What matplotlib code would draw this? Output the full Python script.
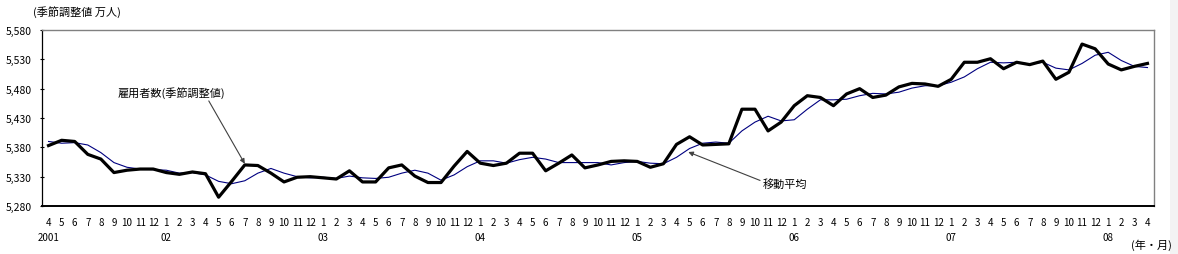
import matplotlib
matplotlib.use('Agg')
import matplotlib.pyplot as plt
from matplotlib.patches import Rectangle

plt.rcParams['font.family'] = ['Noto Sans CJK JP', 'DejaVu Sans']

# monthly data, 2001/4 .. 2008/4 (万人, seasonally adjusted)
months = [4, 5, 6, 7, 8, 9, 10, 11, 12] + list(range(1, 13)) * 6 + [1, 2, 3, 4]
year_labels = ["2001", "02", "03", "04", "05", "06", "07", "08"]

employees = [
    5383, 5392, 5390, 5368, 5360, 5337, 5341, 5343, 5343,
    5337, 5334, 5338, 5335, 5295, 5322, 5350, 5349, 5336, 5321, 5329, 5330,
    5328, 5326, 5340, 5321, 5321, 5345, 5350, 5331, 5320, 5320, 5348, 5373,
    5353, 5349, 5353, 5370, 5370, 5340, 5353, 5367, 5345, 5350, 5356, 5357,
    5356, 5346, 5352, 5385, 5398, 5384, 5385, 5386, 5445, 5445, 5408, 5423,
    5451, 5468, 5465, 5451, 5471, 5480, 5465, 5469, 5483, 5489, 5488, 5484,
    5496, 5525, 5525, 5531, 5514, 5525, 5521, 5527, 5496, 5508, 5556, 5548,
    5522, 5512, 5518, 5523,
]

moving_avg = [
    5390, 5387, 5388, 5384, 5371, 5354, 5346, 5343, 5342,
    5341, 5336, 5337, 5333, 5322, 5318, 5323, 5336, 5344, 5336, 5330, 5328,
    5329, 5327, 5331, 5328, 5327, 5329, 5336, 5341, 5336, 5324, 5333, 5347,
    5357, 5357, 5353, 5359, 5363, 5360, 5354, 5354, 5354, 5354, 5350, 5354,
    5356, 5353, 5352, 5363, 5378, 5387, 5389, 5387, 5408, 5423, 5433, 5425,
    5427, 5445, 5461, 5461, 5462, 5468, 5472, 5471, 5474, 5481, 5485, 5485,
    5491, 5500, 5514, 5525, 5524, 5525, 5522, 5525, 5515, 5512, 5523, 5537,
    5542, 5528, 5518, 5516,
]

x = list(range(len(employees)))

fig = plt.figure(figsize=(11.78, 2.55), dpi=100)
ax = fig.add_axes([42 / 1178, 1 - 207 / 255, 1112 / 1178, 176 / 255])

# faint strip at the right border of the picture
fig.patches.append(Rectangle((1170 / 1178, 0), 8 / 1178, 1, transform=fig.transFigure,
                             facecolor='#f3f3f3', edgecolor='none'))

ax.plot(x, moving_avg, color='#000080', lw=0.8, zorder=2)
ax.plot(x, employees, color='black', lw=2.3, zorder=3)

ax.set_xlim(-0.5, len(x) - 0.5)
ax.set_ylim(5280, 5580)
yt = list(range(5280, 5581, 50))
ax.set_yticks(yt)
ax.set_yticklabels(["{:,}".format(v) for v in yt], fontsize=7.5)
ax.set_xticks(x)
ax.set_xticklabels([str(m) for m in months], fontsize=7)
ax.tick_params(axis='x', length=0, pad=8)
ax.tick_params(axis='y', length=3, direction='inout', width=0.8, pad=6)

# year labels under January (first one under the first month)
year_pos = [0] + [i for i, m in enumerate(months) if m == 1]
for pos, lab in zip(year_pos, year_labels):
    ax.text(pos, -0.176, lab, transform=ax.get_xaxis_transform(),
            ha='center', va='center', fontsize=7)

for side in ('top', 'right'):
    ax.spines[side].set_color('#808080')
    ax.spines[side].set_linewidth(1.0)
ax.spines['left'].set_linewidth(0.9)
ax.spines['bottom'].set_linewidth(1.4)

fig.text(33 / 1178, 1 - 12 / 255, "(季節調整値 万人)", fontsize=8, va='center', ha='left')
fig.text(1172 / 1178, 1 - 245 / 255, "(年・月)", fontsize=8, va='center', ha='right')

# annotations with arrows
ax.annotate("雇用者数(季節調整値)", xy=(15, 5352), xytext=(5.3, 5474),
            fontsize=8, ha='left', va='center',
            arrowprops=dict(arrowstyle='-|>', color='#404040', lw=0.8,
                            mutation_scale=7, shrinkA=0, shrinkB=0,
                            relpos=(0.83, 0.0)))
ax.annotate("移動平均", xy=(48.9, 5372), xytext=(54.6, 5318), fontsize=8,
            ha='left', va='center',
            arrowprops=dict(arrowstyle='-|>', color='#404040', lw=0.8,
                            mutation_scale=7, shrinkA=0, shrinkB=0,
                            relpos=(0.0, 0.7)))

fig.savefig('out.png', dpi=100)
plt.close()
